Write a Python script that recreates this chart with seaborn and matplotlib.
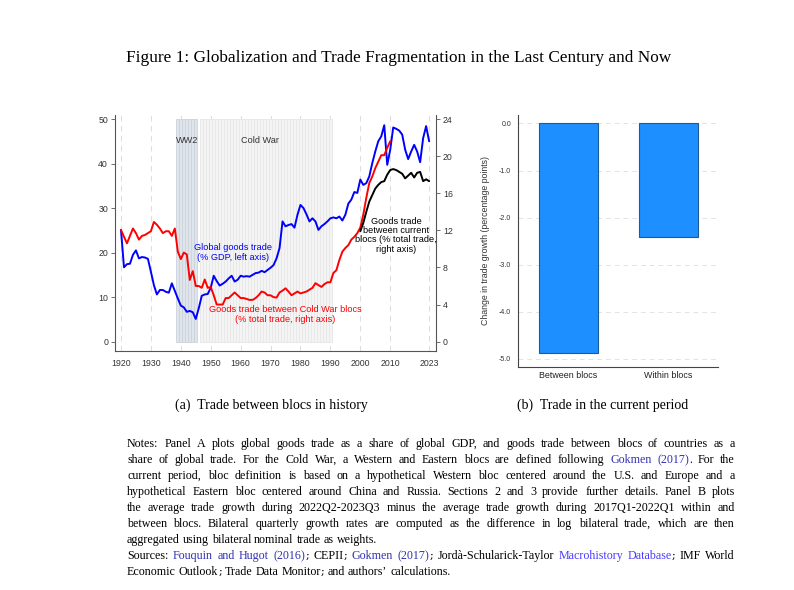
import re
import matplotlib
matplotlib.use("Agg")
import matplotlib.pyplot as plt
from matplotlib import font_manager
from matplotlib.font_manager import FontProperties
from matplotlib.ticker import FormatStrFormatter
import numpy as np
import pandas as pd
import seaborn as sns

# ---------------- data ----------------
years_global = list(range(1920, 2024))
global_trade = [
    25.1, 16.7, 17.4, 17.5, 19.5, 20.5, 18.7, 19.0, 18.9, 18.6,
    15.7, 12.7, 10.6, 11.6, 11.6, 11.2, 11.0, 13.1, 11.4, 9.7,
    8.1, 7.7, 6.7, 6.9, 6.6, 5.1, 7.5, 10.3, 10.6, 10.7,
    12.1, 14.8, 13.6, 12.6, 13.0, 13.5, 14.2, 14.8, 13.5, 13.9,
    14.8, 14.6, 14.7, 14.6, 15.0, 15.4, 15.5, 15.9, 15.6, 16.1,
    16.6, 17.2,
    18.7, 21.0, 27.0, 25.9, 26.2, 26.4, 25.6, 28.5, 30.7, 30.0,
    28.6, 27.0, 27.7, 27.0, 25.1, 25.9, 26.4, 27.0, 27.7, 27.9,
    27.7, 28.1, 27.2, 28.5, 31.0, 31.9, 33.6, 33.4, 36.4, 35.2,
    35.6, 37.1, 40.1, 42.7, 45.0, 46.1, 48.6, 39.7, 43.1, 48.1,
    47.8, 47.4, 46.5, 43.1, 41.0, 42.7, 44.2, 42.7, 40.3, 45.7,
    48.4, 45.0,
]
years_coldwar_blocs = list(range(1920, 2011))
coldwar_blocs_trade = [
    12.05, 11.3, 10.6, 11.4, 12.2, 11.7, 11.0, 11.4, 11.5, 11.7,
    11.9, 12.9, 12.6, 12.2, 11.7, 11.9, 11.9, 11.4, 12.2, 9.7,
    8.9, 9.6, 9.4, 6.65, 7.6, 6.0, 6.0, 5.8, 6.7, 5.8,
    5.9, 5.0, 4.0, 4.0, 4.0, 4.7, 4.7, 5.0, 5.3, 5.0,
    4.7, 4.7, 4.6, 4.5, 4.5, 4.7, 5.0, 5.4, 5.3, 5.0,
    5.0, 4.8,
    4.75, 5.3, 5.5, 5.75, 5.4, 5.0, 5.2, 5.4, 5.2, 5.3,
    5.4, 5.6, 5.8, 6.3, 6.1, 5.9, 6.2, 6.4, 6.4, 7.4,
    7.7, 8.8, 9.7, 10.1, 10.4, 11.0, 11.3, 11.7, 12.3, 13.7,
    15.5, 17.1, 17.8, 18.7, 19.4, 20.1, 20.1, 20.9, 21.6,
]
years_current_blocs = list(range(2000, 2024))
current_blocs_trade = [
    11.9, 12.8, 14.0, 15.1, 15.8, 16.5, 16.9, 17.2, 17.3, 18.0,
    18.5, 18.6, 18.5, 18.3, 18.1, 17.6, 17.9, 18.2, 17.7, 18.2,
    18.3, 17.3, 17.5, 17.3,
]
ww2_years = list(range(1939, 1946))
coldwar_years = list(range(1947, 1991))

x_ticks = [1920, 1930, 1940, 1950, 1960, 1970, 1980, 1990, 2000, 2010, 2023]
left_ticks = [0, 10, 20, 30, 40, 50]
right_ticks = [0, 4, 8, 12, 16, 20, 24]

bar_categories = ["Between blocs", "Within blocs"]
bar_values = [-4.88, -2.42]
bar_ticks = [0.0, -1.0, -2.0, -3.0, -4.0, -5.0]

title_text = "Figure 1: Globalization and Trade Fragmentation in the Last Century and Now"
caption_a = "(a)  Trade between blocs in history"
caption_b = "(b)  Trade in the current period"
notes_lines = [
    ("Notes: Panel A plots global goods trade as a share of global GDP, and goods trade between blocs of countries as a", True),
    ("share of global trade. For the Cold War, a Western and Eastern blocs are defined following {Gokmen} {(2017)}. For the", True),
    ("current period, bloc definition is based on a hypothetical Western bloc centered around the U.S. and Europe and a", True),
    ("hypothetical Eastern bloc centered around China and Russia. Sections 2 and 3 provide further details. Panel B plots", True),
    ("the average trade growth during 2022Q2-2023Q3 minus the average trade growth during 2017Q1-2022Q1 within and", True),
    ("between blocs. Bilateral quarterly growth rates are computed as the difference in log bilateral trade, which are then", True),
    ("aggregated using bilateral nominal trade as weights.", False),
    ("Sources: {Fouquin} {and} {Hugot} {(2016)}; CEPII; {Gokmen} {(2017)}; Jordà-Schularick-Taylor <Macrohistory> <Database>; IMF World", True),
    ("Economic Outlook; Trade Data Monitor; and authors’ calculations.", False),
]

# ---------------- setup ----------------
sns.set_style("white")
names = {f.name for f in font_manager.fontManager.ttflist}
SANS = "Liberation Sans Narrow" if "Liberation Sans Narrow" in names else "Liberation Sans"
SANS2 = "Liberation Sans"
SERIF = "Liberation Serif"
plt.rcParams["font.family"] = [SANS2, "DejaVu Sans"]

W, H = 794, 590
fig = plt.figure(figsize=(W / 100, H / 100), dpi=100)
fig.patch.set_facecolor("white")


def fx(px):
    return px / W


def fy(py):
    return 1 - py / H


# ---------------- panel A ----------------
axA = fig.add_axes([fx(115), fy(351), fx(436 - 115), (351 - 115) / H])
axA.set_xlim(1918.0, 2025.3)
ylo, yhi = -2.1, 50.9
axA.set_ylim(ylo, yhi)
axA.grid(False)
for t in x_ticks:
    axA.axvline(t, color="#dedede", lw=0.8, ls=(0, (5, 4)), zorder=0)

axA.bar(ww2_years, [50] * len(ww2_years), width=1.0, bottom=0,
        color="#e0e5ec", edgecolor="#ccd3dd", linewidth=0.6, zorder=1)
axA.bar(coldwar_years, [50] * len(coldwar_years), width=1.0, bottom=0,
        color="#f4f4f4", edgecolor="#e7e7e7", linewidth=0.6, zorder=1)

dfg = pd.DataFrame({"year": years_global, "v": global_trade})
sns.lineplot(data=dfg, x="year", y="v", ax=axA, color="#0000ff", lw=1.4, zorder=3)

axB2 = axA.twinx()
axB2.set_ylim(ylo * 24 / 50, yhi * 24 / 50)
dfr = pd.DataFrame({"year": years_coldwar_blocs, "v": coldwar_blocs_trade})
dfk = pd.DataFrame({"year": years_current_blocs, "v": current_blocs_trade})
sns.lineplot(data=dfr, x="year", y="v", ax=axB2, color="#ff0000", lw=1.4, zorder=3)
sns.lineplot(data=dfk, x="year", y="v", ax=axB2, color="#000000", lw=1.4, zorder=3)

for a in (axA, axB2):
    a.set_xlabel("")
    a.set_ylabel("")
    a.spines["top"].set_visible(False)
    for s in ("left", "right", "bottom"):
        a.spines[s].set_color("#555555")
        a.spines[s].set_linewidth(0.8)

axA.spines["right"].set_visible(False)
axB2.spines["left"].set_visible(False)
axB2.spines["bottom"].set_visible(False)

axA.set_xticks(x_ticks)
axA.set_xticklabels([str(t) for t in x_ticks])
axA.set_yticks(left_ticks)
axB2.set_yticks(right_ticks)
for a in (axA, axB2):
    a.tick_params(axis="both", length=3, width=0.6, color="#555555",
                  labelsize=6.3, labelcolor="#333333", pad=2)
    for lab in a.get_xticklabels() + a.get_yticklabels():
        lab.set_family([SANS, "DejaVu Sans"])
axA.tick_params(axis="x", pad=3)

tk = dict(fontsize=6.6, family=[SANS, "DejaVu Sans"], ha="center", va="center", zorder=5)
axA.text(1942.0, 45.1, "WW2", color="#333333", **tk)
axA.text(1966.4, 45.1, "Cold War", color="#333333", **tk)
axA.text(1957.5, 20.0, "Global goods trade\n(% GDP, left axis)", color="#0000ff",
         linespacing=1.05, **tk)
axA.text(1975.0, 6.1, "Goods trade between Cold War blocs\n(% total trade, right axis)",
         color="#ff0000", linespacing=1.05, **tk)
axA.text(2011.9, 23.9, "Goods trade\nbetween current\nblocs (% total trade,\nright axis)",
         color="#000000", linespacing=1.05, **tk)

# ---------------- panel B ----------------
axB = fig.add_axes([fx(518), fy(367), fx(718 - 518), (367 - 115) / H])
dfb = pd.DataFrame({"cat": bar_categories, "val": bar_values})
sns.barplot(data=dfb, x="cat", y="val", ax=axB, color="#1e8fff", saturation=1,
            width=0.59, edgecolor="#1c5a9c", linewidth=0.8, zorder=3)
axB.set_xlim(-0.5, 1.5)
axB.set_ylim(-5.17, 0.18)
axB.set_yticks(bar_ticks)
axB.yaxis.set_major_formatter(FormatStrFormatter("%.1f"))
for t in bar_ticks:
    axB.axhline(t, color="#e3e3e3", lw=0.7, ls=(0, (5, 4)), zorder=0)
axB.set_xlabel("")
axB.set_ylabel("Change in trade growth (percentage points)", fontsize=6.3,
               color="#333333", labelpad=6)
axB.spines["top"].set_visible(False)
axB.spines["right"].set_visible(False)
for s in ("left", "bottom"):
    axB.spines[s].set_color("#444444")
    axB.spines[s].set_linewidth(0.8)
axB.tick_params(axis="y", length=3, width=0.6, color="#555555", labelsize=5.0,
                labelcolor="#333333", pad=2)
axB.tick_params(axis="x", length=0, labelsize=6.4, labelcolor="#222222", pad=3)

# ---------------- text (title, captions, notes) ----------------
renderer = fig.canvas.get_renderer()


def text_width(s, fp):
    w, h, d = renderer.get_text_width_height_descent(s, fp, ismath=False)
    return w


def fit_size(s, target_px, family):
    fp = FontProperties(family=family, size=10)
    return 10 * target_px / text_width(s, fp)


fig.text(fx(398.5), fy(62), title_text, ha="center", va="baseline", color="#000000",
         fontsize=fit_size(title_text, 543, SERIF), family=SERIF)
cap_size = fit_size(caption_a, 192, SERIF)
fig.text(fx(271), fy(409), caption_a, ha="center", va="baseline", color="#000000",
         fontsize=cap_size, family=SERIF)
fig.text(fx(602.5), fy(409), caption_b, ha="center", va="baseline", color="#000000",
         fontsize=cap_size, family=SERIF)

CITE = "#3333b3"
LINK = "#4a3cff"
BLACK = "#000000"


def parse_word(word):
    segs = []
    for part in re.findall(r"\{[^}]*\}|<[^>]*>|;|[^{<;]+", word):
        if part.startswith("{"):
            segs.append((part[1:-1], CITE))
        elif part.startswith("<"):
            segs.append((part[1:-1], LINK))
        else:
            segs.append((part, BLACK))
    return segs


X0, X1 = 127, 735
fp10 = FontProperties(family=SERIF, size=10)
sp10 = text_width("a a", fp10) - text_width("aa", fp10)
max_nat = 0
for line, just in notes_lines:
    words = line.split(" ")
    wsum = sum(text_width(seg, fp10) for w in words for seg, _ in parse_word(w))
    nat = wsum + sp10 * (len(words) - 1)
    if just:
        max_nat = max(max_nat, nat)
note_size = 10 * (X1 - X0) * 0.975 / max_nat
fpn = FontProperties(family=SERIF, size=note_size)
fps = FontProperties(family="DejaVu Serif", size=note_size * 0.92)
space = text_width("a a", fpn) - text_width("aa", fpn)


def seg_fp(s):
    return fps if s == ";" else fpn


for i, (line, just) in enumerate(notes_lines):
    words = [parse_word(w) for w in line.split(" ")]
    widths = [[text_width(s, seg_fp(s)) for s, _ in w] for w in words]
    total = sum(sum(w) for w in widths)
    gap = (X1 - X0 - total) / (len(words) - 1) if just else space
    x = X0
    ybase = 447 + 16 * i
    for w, ws in zip(words, widths):
        for (s, c), sw in zip(w, ws):
            fig.text(fx(x), fy(ybase), s, fontproperties=seg_fp(s), color=c,
                     ha="left", va="baseline")
            x += sw
        x += gap

fig.savefig("out.png", dpi=100, facecolor="white")
